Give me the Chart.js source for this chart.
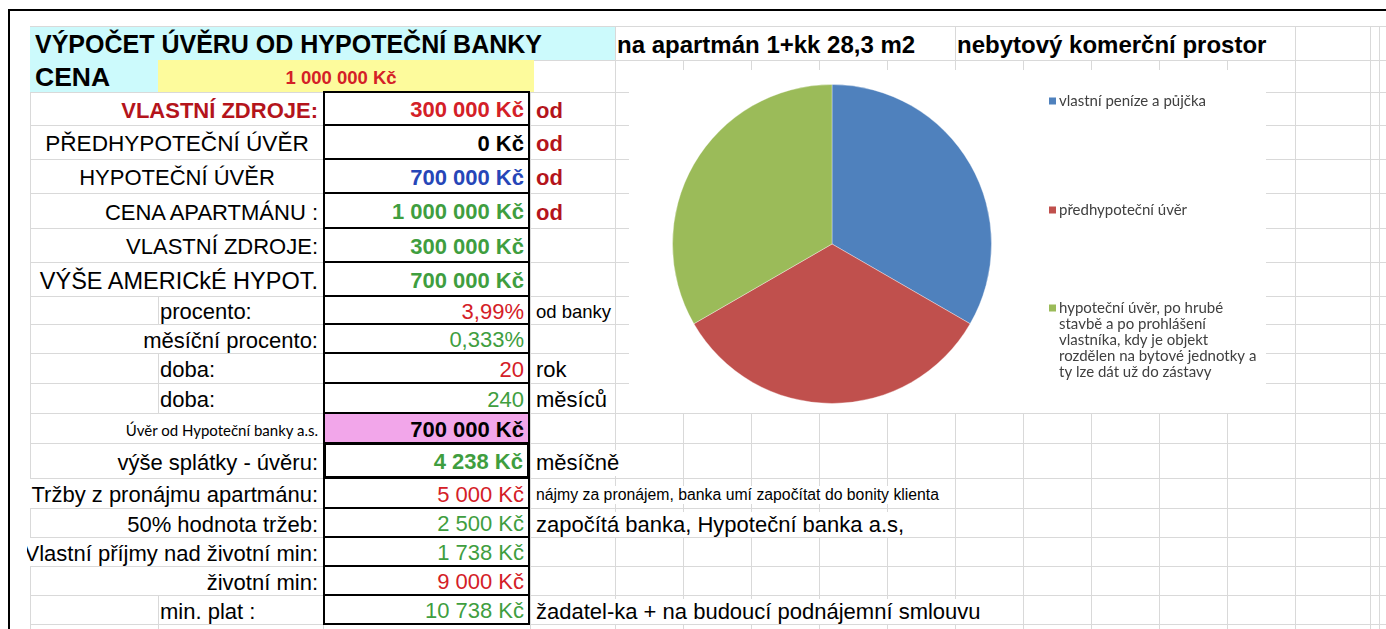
<!DOCTYPE html>
<html>
<head>
<meta charset="utf-8">
<script src="https://cdn.jsdelivr.net/npm/chart.js@4.4.1/dist/chart.umd.min.js"></script>
<style>
  body { margin: 0; width: 1386px; height: 629px; overflow: hidden; background: #fff; }
  #sheet { position: absolute; left: 0; top: 0; width: 1386px; height: 629px; font-family: "Liberation Sans", Arial, sans-serif; }
  .a { position: absolute; box-sizing: border-box; white-space: nowrap; }
  .t { display: flex; align-items: center; overflow: hidden; }
  #chartBox { position: absolute; left: 629px; top: 70px; width: 637px; height: 343px; background: #fff; }
  #pie { position: absolute; left: 0; top: 14px; }
</style>
</head>
<body>
<div id="sheet"></div>
<div id="chartBox"><canvas id="pie" width="637" height="320"></canvas></div>

<script>
const sliceLabels = [
    ['vlastní peníze a půjčka'],
    ['předhypoteční úvěr'],
    ['hypoteční úvěr, po hrubé', 'stavbě a po prohlášení', 'vlastníka, kdy je objekt', 'rozdělen na bytové jednotky a', 'ty lze dát už do zástavy']
];
const sliceValues = [33.3, 33.3, 33.3];
const sliceColors = ['#4F81BD', '#C0504D', '#9BBB59'];

// ---- spreadsheet around the chart ----
const sheet = document.getElementById('sheet');
const rowY = [26, 60, 92, 125, 159, 193, 228, 262, 296, 324, 353, 383, 413, 443, 478, 508, 537, 566, 595, 624];
const colX = [30, 158, 323, 530, 615, 683, 751, 819, 887, 955, 1023, 1091, 1159, 1227, 1295, 1370, 1379];

function div(x, y, w, h, css, txt) {
    const d = document.createElement('div');
    d.className = 'a' + (txt !== undefined ? ' t' : '');
    d.style.cssText = `left:${x}px;top:${y}px;width:${w}px;height:${h}px;` + (css || '');
    if (txt !== undefined) {
        const s = document.createElement('span');
        s.textContent = txt;
        d.appendChild(s);
    }
    sheet.appendChild(d);
    return d;
}

// grid lines
rowY.forEach(y => div(30, y, 1356, 1, 'background:#d9d9d9'));
colX.forEach(x => div(x, rowY[0], 1, 629 - rowY[0], 'background:#d9d9d9'));

// frame
div(8, 9, 1378, 2, 'background:#000');
div(8, 9, 2, 620, 'background:#000');

// fills
div(30, 27, 585, 33, 'background:#CCFAFC');
div(30, 60, 128, 32, 'background:#CCFAFC');
div(158, 60, 376, 32, 'background:#FDFB9C');

const big = 'font-size:22px;';
const bold = 'font-weight:bold;';
const RED = '#D42027', DRED = '#B4141B', GREEN = '#3F9E3F', BLUE = '#2646B8';

// title row
div(35, 27, 570, 33, 'font-size:25px;font-weight:bold;color:#000;padding-top:2px', 'VÝPOČET ÚVĚRU OD HYPOTEČNÍ BANKY');
div(617, 27, 330, 33, 'font-size:24px;font-weight:bold;color:#000;background:#fff;padding-top:2px', 'na apartmán 1+kk 28,3 m2');
div(957, 27, 330, 33, 'font-size:24px;font-weight:bold;color:#000;background:#fff;padding-top:2px', 'nebytový komerční prostor');
div(35, 60, 123, 32, 'font-size:26.5px;font-weight:bold;color:#000;padding-top:2px', 'CENA');
div(158, 60, 376, 32, 'font-size:18.5px;font-weight:bold;color:' + RED + ';justify-content:center;padding-top:3px;padding-right:10px', '1 000 000 Kč');

// rows: [row index, label, label css, label mode, value, value css, note, note css]
const rows = [
    [2, 'VLASTNÍ ZDROJE:', bold + 'color:' + DRED, 'r', '300 000 Kč', bold + 'color:' + RED, 'od', bold + 'color:' + DRED],
    [3, 'PŘEDHYPOTEČNÍ ÚVĚR', 'color:#000;font-size:22.6px', 'c', '0 Kč', bold + 'color:#000', 'od', bold + 'color:' + DRED],
    [4, 'HYPOTEČNÍ ÚVĚR', 'color:#000', 'c', '700 000 Kč', bold + 'color:' + BLUE, 'od', bold + 'color:' + DRED],
    [5, 'CENA APARTMÁNU :', 'color:#000', 'r', '1 000 000 Kč', bold + 'color:' + GREEN, 'od', bold + 'color:' + DRED],
    [6, 'VLASTNÍ ZDROJE:', 'color:#000', 'r', '300 000 Kč', bold + 'color:' + GREEN, '', ''],
    [7, 'VÝŠE AMERICkÉ HYPOT.', 'color:#000;font-size:23.5px', 'r', '700 000 Kč', bold + 'color:' + GREEN, '', ''],
    [8, 'procento:', 'color:#000', 'l', '3,99%', 'color:' + RED, 'od banky', 'color:#000;font-size:18.5px'],
    [9, 'měsíční procento:', 'color:#000', 'r', '0,333%', 'color:' + GREEN, '', ''],
    [10, 'doba:', 'color:#000', 'l', '20', 'color:' + RED, 'rok', 'color:#000'],
    [11, 'doba:', 'color:#000', 'l', '240', 'color:' + GREEN, 'měsíců', 'color:#000'],
    [12, 'Úvěr od Hypoteční banky a.s.', 'color:#000;font-family:Lato,sans-serif;font-size:15px', 'r', '700 000 Kč', bold + 'color:#000', '', ''],
    [13, 'výše splátky - úvěru:', 'color:#000', 'r', '4 238 Kč', bold + 'color:' + GREEN, 'měsíčně', 'color:#000'],
    [14, 'Tržby z pronájmu apartmánu:', 'color:#000', 'w', '5 000 Kč', 'color:' + RED, 'nájmy za pronájem, banka umí započítat do bonity klienta', 'color:#000;font-size:15.8px;font-family:"Liberation Sans Narrow","Liberation Sans",sans-serif'],
    [15, '50% hodnota tržeb:', 'color:#000', 'r', '2 500 Kč', 'color:' + GREEN, 'započítá banka, Hypoteční banka a.s,', 'color:#000'],
    [16, 'Vlastní příjmy nad životní min:', 'color:#000', 'w', '1 738 Kč', 'color:' + GREEN, '', ''],
    [17, 'životní min:', 'color:#000', 'r', '9 000 Kč', 'color:' + RED, '', ''],
    [18, 'min. plat :', 'color:#000', 'l', '10 738 Kč', 'color:' + GREEN, 'žadatel-ka + na budoucí podnájemní smlouvu', 'color:#000']
];

rows.forEach(r => {
    const [ri, label, lcss, mode, value, vcss, note, ncss] = r;
    const y = rowY[ri], h = rowY[ri + 1] - rowY[ri];
    // label cell (merged cells hide the inner grid line)
    let lx = 31, lw = 287, just = 'flex-end', bg = 'background:#fff;';
    if (mode === 'w') { lx = 27; lw = 291; }
    if (mode === 'c') { lx = 31; lw = 292; just = 'center'; }
    if (mode === 'l') { lx = 160; lw = 160; just = 'flex-start'; bg = ''; }
    div(lx, y + 1, lw, h - 1, bg + big + 'padding-top:3px;justify-content:' + just + ';' + lcss, label);
    // value box
    let bcss = 'border:2px solid #000;background:#fff;';
    if (ri === 12) bcss = 'border:2px solid #000;background:#F2A6EA;';
    if (ri === 13) bcss = 'border:3px solid #000;background:#fff;';
    div(colX[2], y - 1, colX[3] - colX[2], h + 2, bcss + big + 'justify-content:flex-end;padding-right:4px;padding-top:3px;' + vcss, value);
    if (note) {
        div(536, y + 1, 500, h - 1, big + 'padding-top:3px;justify-content:flex-start;' + ncss, note).firstChild.style.background = '#fff';
    }
});

// ---- the pie chart ----
const legendRight = {
    id: 'legendRight',
    afterDraw(chart, args, opts) {
        const ctx = chart.ctx;
        const colors = chart.data.datasets[0].backgroundColor;
        ctx.save();
        ctx.font = opts.font;
        ctx.textBaseline = 'middle';
        chart.data.labels.forEach((lines, i) => {
            const y0 = opts.itemY[i];
            ctx.fillStyle = colors[i];
            ctx.fillRect(opts.x, y0 - opts.box / 2, opts.box, opts.box);
            ctx.fillStyle = opts.color;
            lines.forEach((ln, k) => ctx.fillText(ln, opts.x + opts.box + 3, y0 + k * opts.lineHeight));
        });
        ctx.restore();
    }
};

new Chart(document.getElementById('pie'), {
    type: 'pie',
    data: {
        labels: sliceLabels,
        datasets: [{
            data: sliceValues,
            backgroundColor: sliceColors,
            borderColor: 'rgba(255,255,255,0.35)',
            borderWidth: 1
        }]
    },
    options: {
        responsive: false,
        animation: false,
        devicePixelRatio: 1,
        layout: { padding: { left: 0, right: 231, top: 0, bottom: 0 } },
        plugins: {
            legend: { display: false },
            tooltip: { enabled: false },
            legendRight: {
                x: 420,
                box: 7,
                itemY: [17, 126, 224],
                lineHeight: 16,
                font: '15px Lato, "Open Sans", sans-serif',
                color: '#404040'
            }
        }
    },
    plugins: [legendRight]
});
</script>
</body>
</html>
